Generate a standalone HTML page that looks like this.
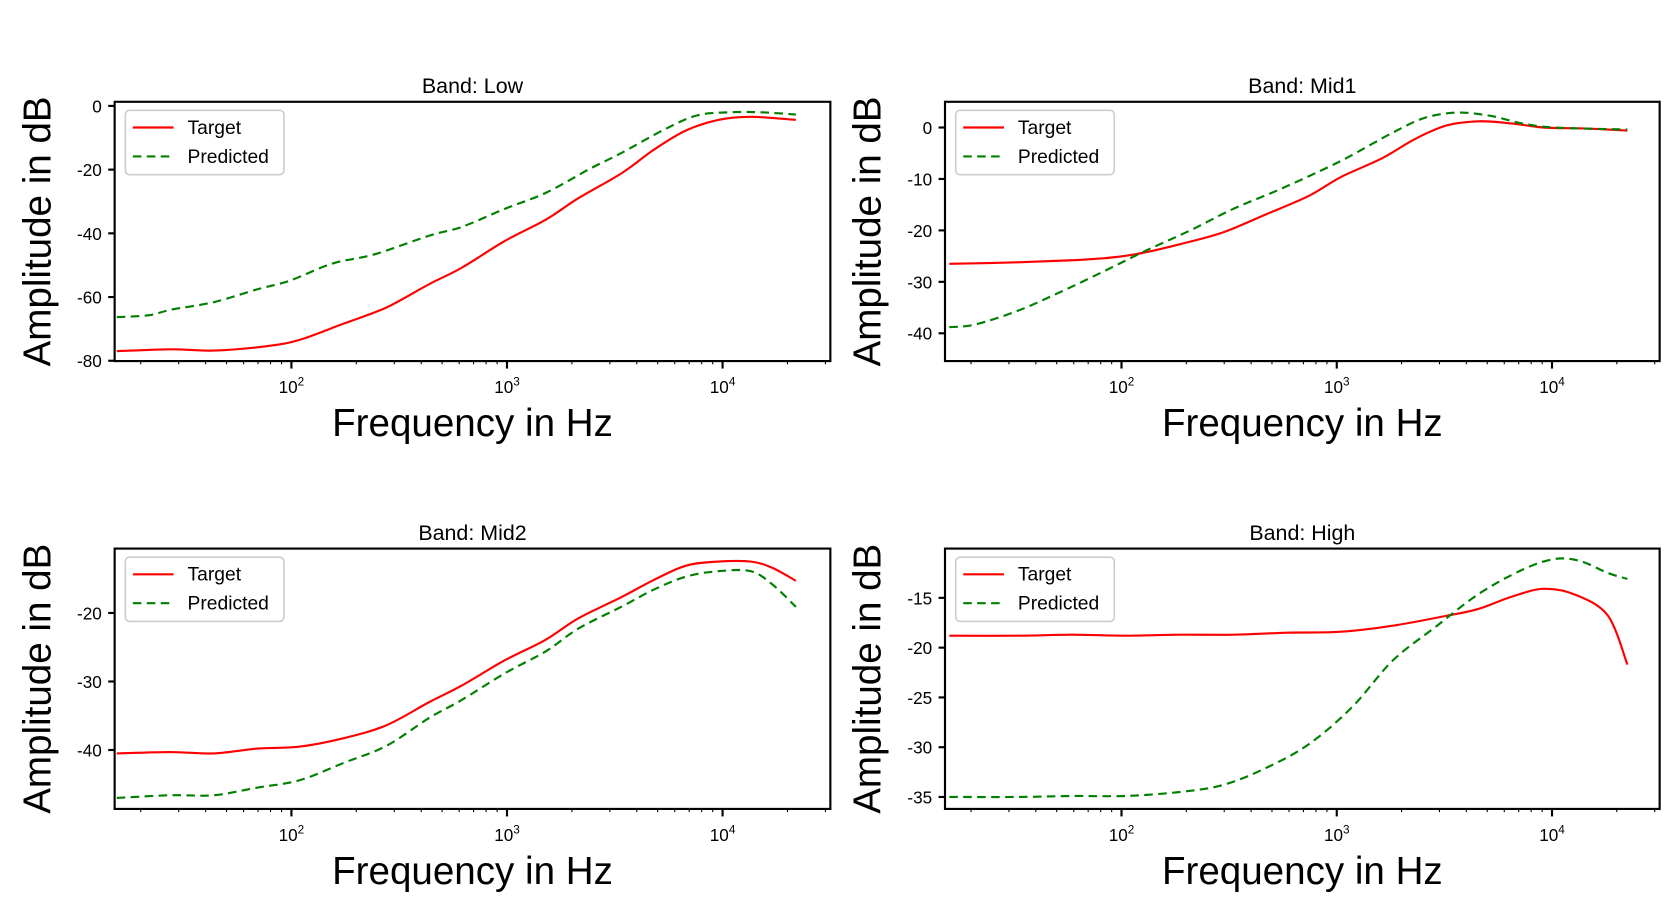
<!DOCTYPE html>
<html><head><meta charset="utf-8"><style>
body{margin:0;background:#fff;}
svg{display:block;font-family:"Liberation Sans",sans-serif;}
</style></head><body>
<svg id="fig" width="1680" height="916" viewBox="0 0 1568 854.93"></svg>
<script>
// ---- data (x = log10 frequency in Hz, y = amplitude dB) ----
const lowFreq = [1.19,1.44,1.64,1.89,2.04,2.24,2.44,2.64,2.79,2.99,3.18,3.33,3.53,3.68,3.83,3.98,4.13,4.34];
const lowTarget = [-77,-76.4,-76.8,-75.4,-73.4,-68.4,-63.3,-55.9,-50.8,-42.4,-35.7,-29,-21.2,-13.8,-7.7,-4.4,-3.4,-4.4];
const lowPredFreq = [1.19,1.34,1.44,1.64,1.84,1.99,2.19,2.39,2.64,2.79,2.99,3.18,3.38,3.53,3.73,3.88,4.03,4.18,4.34];
const lowPred = [-66.3,-65.7,-64,-61.6,-57.6,-54.9,-49.5,-46.5,-40.7,-38,-32.3,-27.3,-19.9,-14.8,-7.4,-3,-2,-2,-2.7];

const mid1Freq = [1.2,1.52,1.77,1.92,2.07,2.27,2.47,2.67,2.87,3.02,3.21,3.36,3.51,3.66,3.81,3.96,4.16,4.35];
const mid1Target = [-26.5,-26.2,-25.8,-25.4,-24.6,-22.7,-20.4,-16.9,-13.3,-9.6,-6,-2.3,0.4,1.2,0.8,0,-0.2,-0.6];
const mid1PredFreq = [1.2,1.32,1.52,1.72,1.92,2.12,2.32,2.52,2.72,2.92,3.06,3.26,3.41,3.56,3.71,3.86,4.01,4.35];
const mid1Pred = [-38.8,-38.3,-35.6,-31.9,-27.9,-23.8,-20,-15.8,-12.3,-8.5,-5.6,-1,1.9,2.9,2.3,0.8,0,-0.4];

const mid2Freq = [1.19,1.44,1.64,1.84,2.04,2.24,2.44,2.64,2.79,2.99,3.18,3.33,3.53,3.68,3.83,3.98,4.13,4.23,4.34];
const mid2Target = [-40.5,-40.3,-40.5,-39.8,-39.5,-38.3,-36.4,-33,-30.6,-26.9,-23.9,-20.8,-17.7,-15.2,-13.1,-12.5,-12.5,-13.4,-15.3];
const mid2Pred = [-47,-46.6,-46.6,-45.5,-44.4,-41.9,-39.4,-35.3,-32.7,-28.8,-25.6,-22.3,-19.1,-16.6,-14.7,-13.9,-13.9,-15.8,-19.1];

const highFreq = [1.2,1.52,1.77,2.02,2.27,2.52,2.77,3.02,3.26,3.51,3.66,3.81,3.96,4.11,4.26,4.35];
const highTarget = [-18.8,-18.8,-18.7,-18.8,-18.7,-18.7,-18.5,-18.4,-17.8,-16.8,-16.1,-14.9,-14.1,-14.7,-16.8,-21.7];
const highPredFreq = [1.2,1.52,1.77,2.02,2.27,2.47,2.67,2.87,3.07,3.26,3.46,3.66,3.86,4.01,4.13,4.26,4.35];
const highPred = [-35,-35,-34.9,-34.9,-34.5,-33.8,-32.1,-29.7,-26,-21.3,-17.9,-14.6,-12.2,-11.1,-11.3,-12.5,-13.1];

const xTickLabels = ["2","3","4"];
const panelTitles = ["Band: Low","Band: Mid1","Band: Mid2","Band: High"];
const lowTicks = [0,-20,-40,-60,-80];
const mid1Ticks = [0,-10,-20,-30,-40];
const mid2Ticks = [-20,-30,-40];
const highTicks = [-15,-20,-25,-30,-35];

const NS = "http://www.w3.org/2000/svg";
const svg = document.getElementById('fig');
function mk(tag, attrs, parent){const e=document.createElementNS(NS,tag);for(const k in attrs)e.setAttribute(k,attrs[k]);(parent||svg).appendChild(e);return e;}

const panels = [
 {name:'low', x0:107,x1:775,y0:95,y1:337, xmin:1.18, xmax:4.5, ymin:-80.1, ymax:1.3, ticks:lowTicks, title:panelTitles[0],
  series:[[lowFreq,lowTarget],[lowPredFreq,lowPred]]},
 {name:'mid1', x0:882,x1:1549,y0:95,y1:337, xmin:1.18, xmax:4.5, ymin:-45.4, ymax:5, ticks:mid1Ticks, title:panelTitles[1],
  series:[[mid1Freq,mid1Target],[mid1PredFreq,mid1Pred]]},
 {name:'mid2', x0:107,x1:775,y0:512,y1:755, xmin:1.18, xmax:4.5, ymin:-48.6, ymax:-10.6, ticks:mid2Ticks, title:panelTitles[2],
  series:[[mid2Freq,mid2Target],[mid2Freq,mid2Pred]]},
 {name:'high', x0:882,x1:1549,y0:512,y1:755, xmin:1.18, xmax:4.5, ymin:-36.2, ymax:-10.05, ticks:highTicks, title:panelTitles[3],
  series:[[highFreq,highTarget],[highPredFreq,highPred]]},
];

function smoothPath(pts){
  let d=`M${pts[0][0]},${pts[0][1]}`;
  for(let i=0;i<pts.length-1;i++){
    const p0=pts[Math.max(0,i-1)],p1=pts[i],p2=pts[i+1],p3=pts[Math.min(pts.length-1,i+2)];
    const c1=[p1[0]+(p2[0]-p0[0])/6,p1[1]+(p2[1]-p0[1])/6];
    const c2=[p2[0]-(p3[0]-p1[0])/6,p2[1]-(p3[1]-p1[1])/6];
    d+=` C${c1[0].toFixed(1)},${c1[1].toFixed(1)} ${c2[0].toFixed(1)},${c2[1].toFixed(1)} ${p2[0].toFixed(1)},${p2[1].toFixed(1)}`;
  }
  return d;
}

panels.forEach(p=>{
  const sx=v=>p.x0+(v-p.xmin)/(p.xmax-p.xmin)*(p.x1-p.x0);
  const sy=v=>p.y1-(v-p.ymin)/(p.ymax-p.ymin)*(p.y1-p.y0);
  const g=mk('g',{});
  
  
  const fr=mk('rect',{x:p.x0,y:p.y0,width:p.x1-p.x0,height:p.y1-p.y0,fill:'none',stroke:'#000','stroke-width':2},g);
  
  
  const t=mk('text',{x:(p.x0+p.x1)/2,y:p.y0-8,'text-anchor':'middle','font-size':20},g);
  t.textContent=p.title;
  
  
  p.ticks.forEach(v=>{
    const y=sy(v);
    mk('line',{x1:p.x0-6,x2:p.x0,y1:y,y2:y,stroke:'#000','stroke-width':2},g);
    const tl=mk('text',{x:p.x0-12,y:y+6,'text-anchor':'end','font-size':16},g);
    tl.textContent=String(v);
    
    
  });
  for(let dec=1;dec<=4;dec++){
    for(let m=1;m<10;m++){
      const lv=dec+Math.log10(m);
      if(lv<p.xmin||lv>p.xmax)continue;
      const x=sx(lv);
      mk('line',{x1:x,x2:x,y1:p.y1,y2:p.y1+(m===1?7:3),stroke:'#000','stroke-width':m===1?2:1},g);
    }
  }
  xTickLabels.forEach(e=>{
    const x=sx(+e);
    const tl=mk('text',{x:x,y:p.y1+30,'text-anchor':'middle','font-size':16},g);
    tl.innerHTML='10<tspan dy="-7" font-size="11">'+e+'</tspan>';
    
    
  });
  const xl=mk('text',{x:(p.x0+p.x1)/2,y:p.y1+70,'text-anchor':'middle','font-size':36},g);
  xl.textContent='Frequency in Hz';
  
  
  const yx=p.x0-60, yc=(p.y0+p.y1)/2;
  const yl=mk('text',{x:yx,y:yc,'text-anchor':'middle','font-size':36,transform:`rotate(-90 ${yx} ${yc})`},g);
  yl.textContent='Amplitude in dB';
  
  
  const styles=[{stroke:'#ff0000',dash:'none',name:'target-line'},{stroke:'#008000',dash:'8 5',name:'predicted-line'}];
  p.series.forEach((s,i)=>{
    const pts=s[0].map((f,k)=>[sx(f),sy(s[1][k])]);
    const path=mk('path',{d:smoothPath(pts),fill:'none',stroke:styles[i].stroke,'stroke-width':2,'stroke-dasharray':styles[i].dash},g);
    
    
  });
  const lg=mk('g',{},g);
  
  
  mk('rect',{x:p.x0+10,y:p.y0+8,width:148,height:60,rx:4,fill:'#fff',stroke:'#ccc','stroke-width':1.5},lg);
  ['Target','Predicted'].forEach((lab,i)=>{
    const ly=p.y0+24+i*27;
    mk('line',{x1:p.x0+17,x2:p.x0+55,y1:ly,y2:ly,stroke:styles[i].stroke,'stroke-width':2,'stroke-dasharray':styles[i].dash},lg);
    const lt=mk('text',{x:p.x0+68,y:ly+6,'font-size':18},lg);
    lt.textContent=lab;
    
    
  });
});
</script>
</body></html>
